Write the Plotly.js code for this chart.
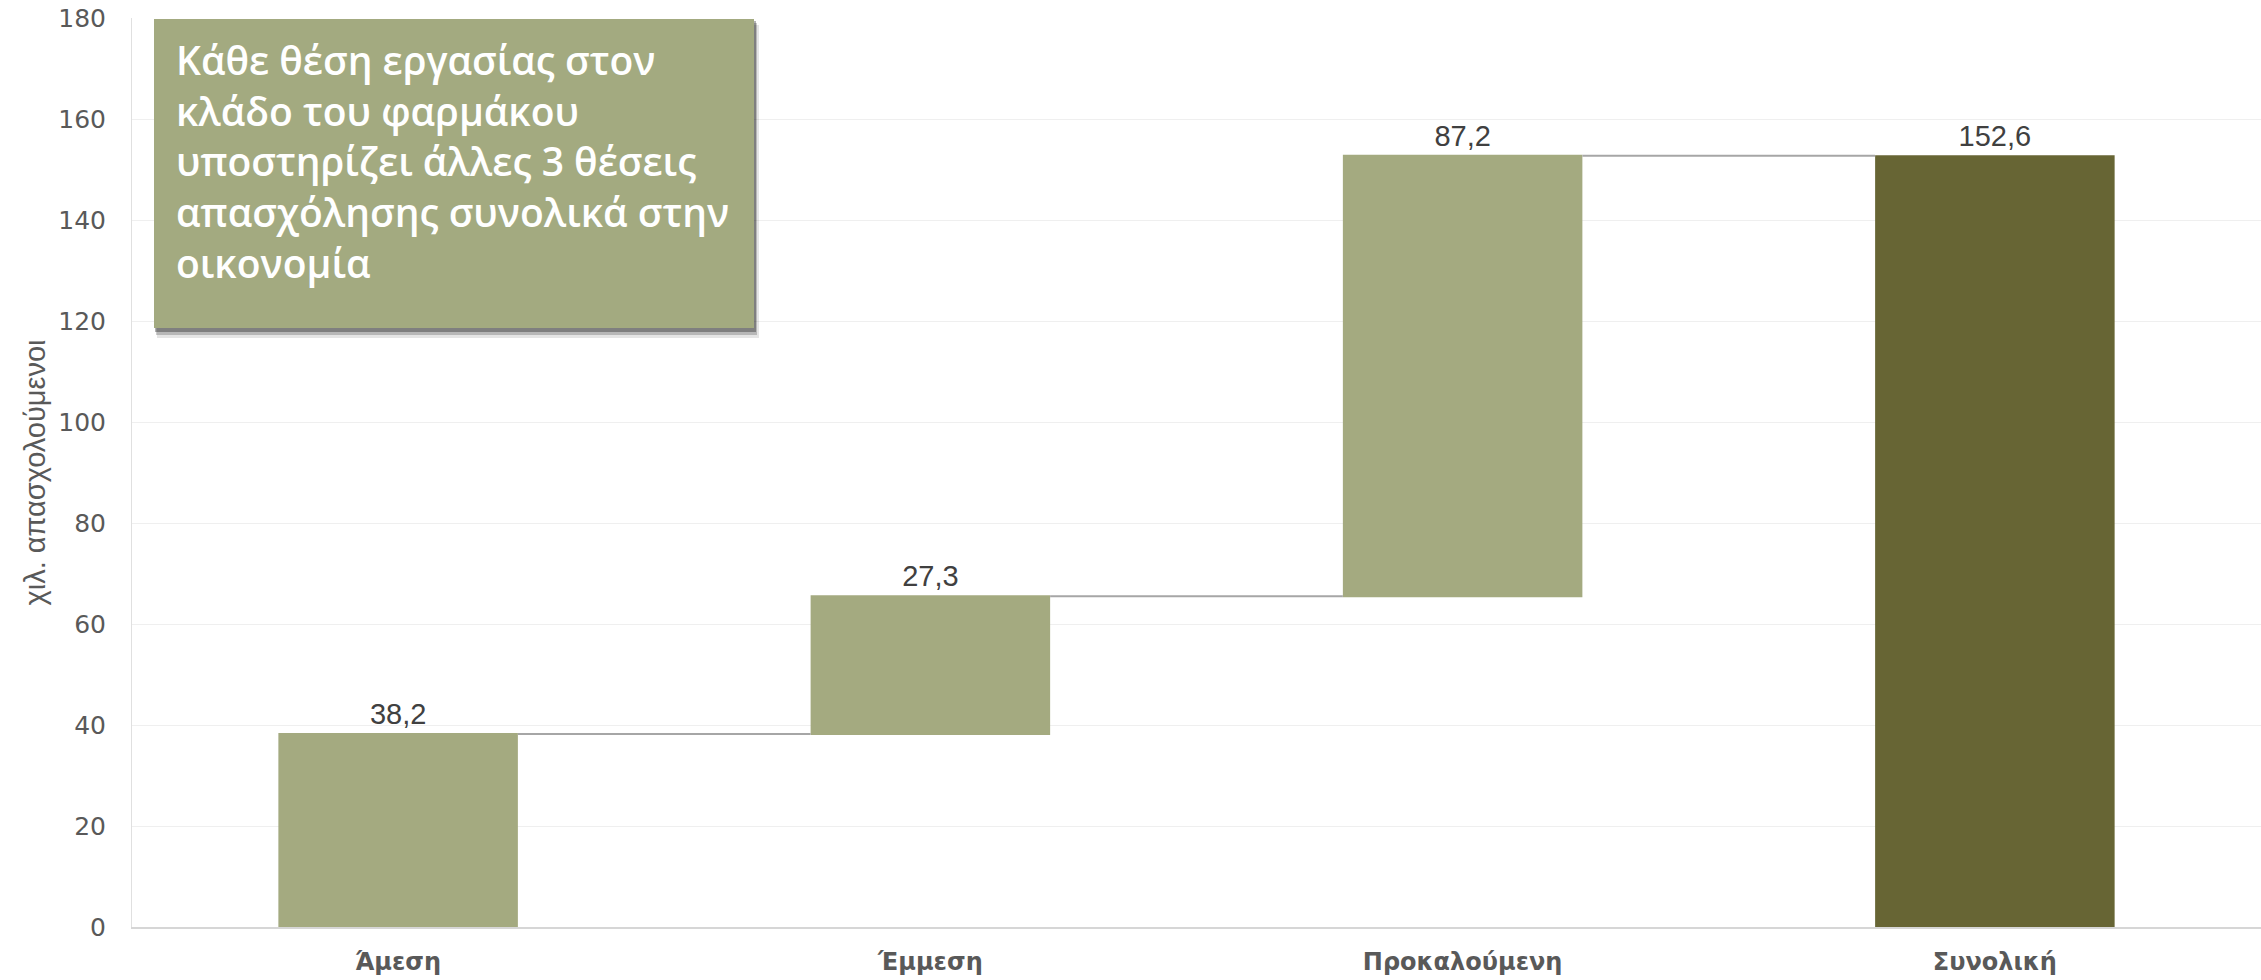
<!DOCTYPE html>
<html>
<head>
<meta charset="utf-8">
<script src="https://cdn.plot.ly/plotly-3.0.1.min.js"></script>
<style>html,body{margin:0;padding:0;background:#fff;}#chart{width:2261px;height:980px;}</style>
</head>
<body>
<div id="chart"></div>
<script>
// ---- data ----
const categories = ["Άμεση", "Έμμεση", "Προκαλούμενη", "Συνολική"];
const values = [38.2, 27.3, 87.2, 152.6];
const measures = ["relative", "relative", "relative", "absolute"];
const dataLabels = ["38,2", "27,3", "87,2", "152,6"];
const yTickValues = [0, 20, 40, 60, 80, 100, 120, 140, 160, 180];
const boxLines = [
  "Κάθε θέση εργασίας στον",
  "κλάδο του φαρμάκου",
  "υποστηρίζει άλλες 3 θέσεις",
  "απασχόλησης συνολικά στην",
  "οικονομία"
];
const yTitle = "χιλ. απασχολούμενοι";

// ---- layout geometry ----
const W = 2261, H = 980;
const M = {l: 132, r: 0, t: 18, b: 53};
const PW = W - M.l - M.r, PH = H - M.t - M.b;
const px = x => (x - M.l) / PW;
const py = y => (H - M.b - y) / PH;

const light = "#A4AA80", dark = "#676534";

const trace = {
  type: "waterfall",
  x: categories,
  y: values,
  measure: measures,
  text: dataLabels,
  textposition: "outside",
  textfont: {family: "Liberation Sans Narrow, Liberation Sans, sans-serif", size: 29, color: "#404040"},
  cliponaxis: false,
  increasing: {marker: {color: light}},
  decreasing: {marker: {color: light}},
  totals: {marker: {color: dark}},
  connector: {mode: "between", line: {color: "#A6A6A6", width: 2}},
  hoverinfo: "skip"
};

const bx0 = 154, bx1 = 754, by0 = 19, by1 = 328;
const shapes = [
  {type: "rect", xref: "paper", yref: "paper", x0: px(bx0 + 3), x1: px(bx1 + 5), y0: py(by0 + 6), y1: py(by1 + 10),
   fillcolor: "rgba(0,0,0,0.10)", line: {width: 0}, layer: "above"},
  {type: "rect", xref: "paper", yref: "paper", x0: px(bx0 + 2), x1: px(bx1 + 3), y0: py(by0 + 4), y1: py(by1 + 7),
   fillcolor: "rgba(0,0,0,0.2)", line: {width: 0}, layer: "above"},
  {type: "rect", xref: "paper", yref: "paper", x0: px(bx0 + 1), x1: px(bx1 + 2), y0: py(by0 + 2), y1: py(by1 + 4),
   fillcolor: "rgba(0,0,0,0.3)", line: {width: 0}, layer: "above"},
  {type: "rect", xref: "paper", yref: "paper", x0: px(bx0), x1: px(bx1), y0: py(by0), y1: py(by1),
   fillcolor: "#A3AA80", line: {width: 0}, layer: "above"}
];

const layout = {
  width: W, height: H,
  margin: M,
  paper_bgcolor: "#fff", plot_bgcolor: "#fff",
  separators: ",.",
  showlegend: false,
  waterfallgap: 0.55,
  font: {family: "Liberation Sans, sans-serif", color: "#595959"},
  xaxis: {
    type: "category",
    showgrid: false,
    showline: true, linecolor: "#D6D6D6", linewidth: 2,
    tickfont: {family: "DejaVu Sans, sans-serif", size: 24, color: "#595959", weight: "bold"},
    ticks: "", ticklabelstandoff: 12,
    fixedrange: true
  },
  yaxis: {
    range: [0, 180],
    tickvals: yTickValues,
    ticktext: yTickValues.map(String),
    showgrid: true, gridcolor: "#EFEFEF", gridwidth: 1,
    zeroline: false,
    showline: true, linecolor: "#E0E0E0", linewidth: 1,
    tickfont: {family: "DejaVu Sans, sans-serif", size: 25, color: "#595959"},
    ticks: "", ticklabelstandoff: 20,
    title: {text: yTitle, standoff: 4, font: {family: "Liberation Sans Narrow, Liberation Sans, sans-serif", size: 29, color: "#595959"}},
    fixedrange: true
  },
  shapes: shapes,
  annotations: [{
    xref: "paper", yref: "paper",
    x: px(bx0 + 20), y: py(by0 + 12),
    xanchor: "left", yanchor: "top",
    align: "left",
    showarrow: false,
    text: boxLines.join("<br>"),
    font: {family: "Open Sans, Noto Sans, sans-serif", size: 39, color: "#FFFFFF", weight: 600}
  }]
};

Plotly.newPlot("chart", [trace], layout, {displayModeBar: false, staticPlot: true});
</script>
</body>
</html>
